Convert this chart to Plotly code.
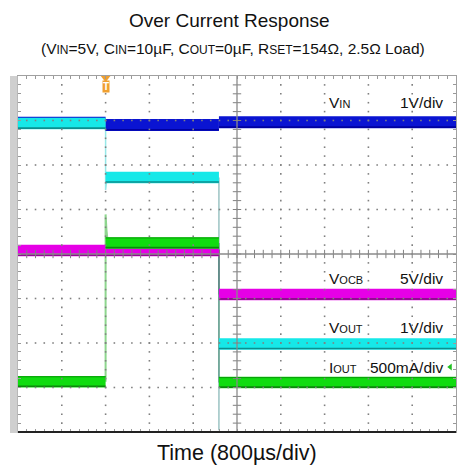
import plotly.graph_objects as go

# ---------------- data (read from the scope capture) ----------------
# time in microseconds, 800 us/div, 10 divisions
SEG_T = [0, 1600, 3670, 8000]          # segment boundaries (us)
VIN_V = [4.95, 4.90, 4.96]             # V  (1 V/div)
VOUT_V = [4.93, 3.72, -0.02]           # V  (1 V/div)
VOCB_V = [5.40, 5.40, 0.45]            # V  (5 V/div)
IOUT_A = [0.04, 1.60, 0.03]            # A  (500 mA/div)

VOUT_EDGE1_T = [1600, 1600, 1615, 1640]
VOUT_EDGE1_V = [4.93, 3.44, 3.60, 3.72]
VOUT_EDGE2_T = [3670, 3670, 3672]
VOUT_EDGE2_V = [3.72, -1.96, -0.02]
IOUT_EDGE1_T = [1600, 1600, 1615, 1640]
IOUT_EDGE1_A = [0.04, 1.92, 1.75, 1.60]
IOUT_EDGE2_T = [3670, 3670]
IOUT_EDGE2_A = [1.60, 0.03]
VOCB_EDGE2_T = [3670, 3670]
VOCB_EDGE2_V = [5.40, 0.45]

# channel settings: (units per div, ground position in divisions from bottom)
CH = {
    "VIN": (1.0, 2.0),
    "VOUT": (1.0, 2.0),
    "VOCB": (5.0, 3.0),
    "IOUT": (0.5, 1.05),
}
T_PER_DIV = 800
N_XDIV, N_YDIV = 10, 8

W, H = 458, 468
ML, MR, MT, MB = 18, 2, 76, 36
PX_PER_DIV = (H - MT - MB) / N_YDIV


def to_div(ch, vals):
    s, g = CH[ch]
    return [v / s + g for v in vals]


def band(ch, levels, width, color, edge=None, edge_top=None):
    ys = to_div(ch, levels)
    xs, yy = [], []
    ex, ey, tx, ty = [], [], [], []
    off_b = (width / 2 - 1.2) / PX_PER_DIV
    off_t = (width / 2 - 0.8) / PX_PER_DIV
    for i, y in enumerate(ys):
        t0, t1 = SEG_T[i], SEG_T[i + 1]
        xs += [t0, t1, None]
        yy += [y, y, None]
        ex += [t0, t1, None]
        ey += [y - off_b, y - off_b, None]
        tx += [t0, t1, None]
        ty += [y + off_t, y + off_t, None]
    out = [go.Scatter(x=xs, y=yy, mode="lines", line=dict(width=width, color=color),
                      hoverinfo="skip")]
    if edge:
        out.append(go.Scatter(x=ex, y=ey, mode="lines", line=dict(width=1.6, color=edge),
                              hoverinfo="skip"))
    if edge_top:
        out.append(go.Scatter(x=tx, y=ty, mode="lines", line=dict(width=1, color=edge_top),
                              hoverinfo="skip"))
    return out


def edge(ch, t, v, color, width=1.5):
    return go.Scatter(x=t, y=to_div(ch, v), mode="lines",
                      line=dict(width=width, color=color), hoverinfo="skip")


fig = go.Figure()
BW = 11.5  # band thickness in px

# thin transitions
fig.add_trace(edge("VOCB", VOCB_EDGE2_T, VOCB_EDGE2_V, "rgba(120,40,120,0.8)"))
fig.add_trace(edge("IOUT", IOUT_EDGE2_T, IOUT_EDGE2_A, "rgba(90,150,110,0.8)"))
fig.add_trace(edge("VOUT", VOUT_EDGE2_T, VOUT_EDGE2_V, "rgba(80,150,150,0.7)", 1.2))
fig.add_trace(edge("IOUT", IOUT_EDGE1_T, IOUT_EDGE1_A, "rgba(130,210,130,0.9)", 2))
fig.add_trace(edge("VOUT", VOUT_EDGE1_T, VOUT_EDGE1_V, "rgba(140,230,230,0.9)", 1.5))

for tr in band("VIN", VIN_V, 12, "#0a14d2", edge="#0000a0"):
    fig.add_trace(tr)
for tr in band("VOCB", VOCB_V, BW, "#e600e6", edge="#7a0a7a"):
    fig.add_trace(tr)
for tr in band("VOUT", VOUT_V, BW, "#16e8e8", edge="#0b8f8f"):
    fig.add_trace(tr)
for tr in band("IOUT", IOUT_A, BW, "#10dc10", edge="#0a8a0a", edge_top="#0a9a0a"):
    fig.add_trace(tr)

# graticule dots (on top of traces, like the scope)
gx, gy = [], []
for k in range(1, N_XDIV):
    if k == N_XDIV // 2:
        continue
    for j in range(1, N_YDIV * 5):
        gx.append(k * T_PER_DIV)
        gy.append(j * 0.2)
for k in range(1, N_YDIV):
    if k == N_YDIV // 2:
        continue
    for j in range(1, N_XDIV * 5):
        gx.append(j * T_PER_DIV / 5)
        gy.append(k)
fig.add_trace(go.Scatter(x=gx, y=gy, mode="markers",
                         marker=dict(symbol="square", size=1.6, color="#808080"),
                         hoverinfo="skip"))

# center axis ticks
cx = [N_XDIV // 2 * T_PER_DIV] * (N_YDIV * 5 - 1)
cy = [j * 0.2 for j in range(1, N_YDIV * 5)]
fig.add_trace(go.Scatter(x=cx, y=cy, mode="markers",
                         marker=dict(symbol="line-ew", size=6, line=dict(width=1, color="#808080")),
                         hoverinfo="skip"))
hx = [j * T_PER_DIV / 5 for j in range(1, N_XDIV * 5)]
hy = [N_YDIV / 2] * len(hx)
fig.add_trace(go.Scatter(x=hx, y=hy, mode="markers",
                         marker=dict(symbol="line-ns", size=6, line=dict(width=1, color="#808080")),
                         hoverinfo="skip"))

# channel ground markers on the left, trigger marker at top, marker at right
fig.add_trace(go.Scatter(x=[-115], y=[CH["VOCB"][1]], mode="markers", cliponaxis=False,
                         marker=dict(symbol="triangle-right", size=9, color="#b000b0"),
                         hoverinfo="skip"))
fig.add_trace(go.Scatter(x=[-115], y=[CH["VOUT"][1]], mode="markers", cliponaxis=False,
                         marker=dict(symbol="triangle-right-open", size=9,
                                     line=dict(width=1.5, color="#30d8e8")),
                         hoverinfo="skip"))
fig.add_trace(go.Scatter(x=[-115], y=[CH["IOUT"][1] - 0.05], mode="markers", cliponaxis=False,
                         marker=dict(symbol="triangle-right-open", size=9,
                                     line=dict(width=1.5, color="#20a020")),
                         hoverinfo="skip"))
fig.add_trace(go.Scatter(x=[SEG_T[1]], y=[7.96], mode="markers", cliponaxis=False,
                         marker=dict(symbol="triangle-down", size=9, color="#f0a030"),
                         hoverinfo="skip"))
fig.add_trace(go.Scatter(x=[7895], y=[1.46], mode="markers", cliponaxis=False,
                         marker=dict(symbol="triangle-left", size=6, color="#20c020"),
                         hoverinfo="skip"))

FONT = "Liberation Sans, Arial, sans-serif"
ann = []
ann.append(dict(x=SEG_T[1], y=7.76, xref="x", yref="y", text="<b>T</b>", showarrow=False,
                font=dict(family=FONT, size=10, color="white"), bgcolor="#f0a030",
                borderpad=0))


def sm(t, px=11):
    return '<span style="font-size:%spx">' % px + t + '</span>'


labels = [
    ("V" + sm("IN"), "1V/div", 7.40),
    ("V" + sm("OCB"), "5V/div", 3.45),
    ("V" + sm("OUT"), "1V/div", 2.34),
    ("I" + sm("OUT"), "500mA/div", 1.44),
]
for name, scale, y in labels:
    ann.append(dict(x=5640, y=y, xref="x", yref="y", text=name, showarrow=False,
                    xanchor="left", yanchor="middle",
                    font=dict(family=FONT, size=15.5, color="#111")))
    ann.append(dict(x=7800, y=y, xref="x", yref="y", text=scale, showarrow=False,
                    xanchor="right", yanchor="middle",
                    font=dict(family=FONT, size=15.5, color="#111")))

PH = H - MT - MB
PW = W - ML - MR


def py(p):
    return (H - MB - p) / PH


def px(p):
    return (p - ML) / PW


ann.append(dict(x=px(229), y=py(20), xref="paper", yref="paper", text="Over Current Response",
                showarrow=False, xanchor="center", yanchor="middle",
                font=dict(family=FONT, size=19, color="#111")))
sub = ("(V" + sm("IN", 12) + "=5V, C" + sm("IN", 12) + "=10µF, C" + sm("OUT", 12)
       + "=0µF, R" + sm("SET", 12) + "=154Ω, 2.5Ω Load)")
ann.append(dict(x=px(233), y=py(48), xref="paper", yref="paper", text=sub,
                showarrow=False, xanchor="center", yanchor="middle",
                font=dict(family=FONT, size=15.5, color="#111")))
ann.append(dict(x=px(236.5), y=py(453), xref="paper", yref="paper", text="Time (800µs/div)",
                showarrow=False, xanchor="center", yanchor="middle",
                font=dict(family=FONT, size=21.5, color="#111")))

shapes = [
    # left gray strip
    dict(type="rect", xref="paper", yref="paper", x0=-8 / PW, x1=-0.5 / PW,
         y0=-0.003, y1=1.0, fillcolor="#cfcfcf", line=dict(width=0), layer="above"),
    # center axes
    dict(type="line", xref="x", yref="paper", x0=4000, x1=4000, y0=0, y1=1,
         line=dict(color="#8a8a8a", width=1.3), layer="above"),
    dict(type="line", xref="paper", yref="y", x0=0, x1=1, y0=4, y1=4,
         line=dict(color="#8a8a8a", width=1.3), layer="above"),
    # bottom border dark
    dict(type="line", xref="paper", yref="paper", x0=0, x1=1, y0=0, y1=0,
         line=dict(color="#222", width=2), layer="above"),
]

fig.update_layout(
    width=W, height=H,
    margin=dict(l=ML, r=MR, t=MT, b=MB, pad=0),
    paper_bgcolor="white", plot_bgcolor="white",
    showlegend=False,
    annotations=ann, shapes=shapes,
    xaxis=dict(range=[0, N_XDIV * T_PER_DIV], showgrid=False, zeroline=False,
               showticklabels=False, ticks="inside", ticklen=3, tickcolor="#999",
               dtick=T_PER_DIV / 5, tick0=0, mirror="allticks", showline=True,
               linecolor="#a0a0a0", linewidth=1, fixedrange=True),
    yaxis=dict(range=[0, N_YDIV], showgrid=False, zeroline=False,
               showticklabels=False, ticks="inside", ticklen=3, tickcolor="#999",
               dtick=0.2, tick0=0, mirror="allticks", showline=True,
               linecolor="#a0a0a0", linewidth=1, fixedrange=True),
)

fig.write_html("out.html")
